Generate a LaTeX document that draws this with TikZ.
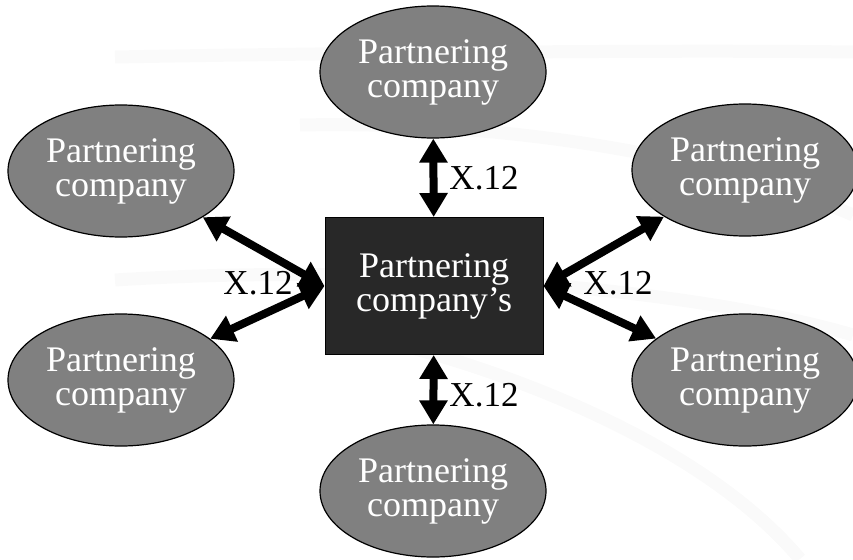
\documentclass[tikz,border=0pt]{standalone}
\usepackage{fontspec}
\setmainfont{Liberation Serif}
\usetikzlibrary{arrows.meta,shapes.geometric}
\definecolor{ellfill}{HTML}{808080}
\definecolor{boxfill}{HTML}{282828}
\definecolor{bgarc}{HTML}{FAFAFA}
\begin{document}
\begin{tikzpicture}[x=1pt,y=-1pt,
  partner/.style={ellipse, draw=black, line width=1.2pt, fill=ellfill, text=white,
    minimum width=226pt, minimum height=132pt, align=center, inner sep=0pt,
    font=\fontsize{36}{34}\selectfont},
  hub/.style={rectangle, draw=black, line width=1pt, fill=boxfill, text=white,
    minimum width=218pt, minimum height=137pt, align=center, inner sep=0pt,
    font=\fontsize{36}{34}\selectfont},
  link/.style={line width=8pt, {Triangle[length=24pt,width=27pt]}-{Triangle[length=24pt,width=27pt]}},
  lbl/.style={inner sep=0pt, font=\fontsize{35}{34}\selectfont},
  bgband/.style={draw=bgarc, line width=13pt}]
\useasboundingbox (0,0) rectangle (853,559);
% faint background bands
\path[bgband] (115,57) .. controls (400,52) and (700,50) .. (853,52);
\path[bgband] (300,125) .. controls (550,120) and (750,170) .. (853,215);
\path[bgband] (115,280) .. controls (400,262) and (700,290) .. (853,335);
\path[bgband] (400,345) .. controls (500,370) and (700,440) .. (800,559);
% nodes
\node[hub] (ctr) at (434,286) {Partnering\\company’s};
\node[partner] (top) at (433,72) {Partnering\\company};
\node[partner] (bot) at (433,491) {Partnering\\company};
\node[partner] (lt) at (121,171) {Partnering\\company};
\node[partner] (lb) at (121,380) {Partnering\\company};
\node[partner] (rt) at (745,170) {Partnering\\company};
\node[partner] (rb) at (745,380) {Partnering\\company};
% connectors
\draw[link] (top) -- (ctr);
\draw[link] (ctr) -- (bot);
\draw[link] (ctr.west) -- (lt);
\draw[link] (ctr.west) -- (lb);
\draw[link] (ctr.east) -- (rt);
\draw[link] (ctr.east) -- (rb);
% labels
\node[lbl] (l1) at (484,178) {X.12};
\node[lbl] (l2) at (484,395) {X.12};
\node[lbl] (l3) at (258,283) {X.12};
\node[lbl] (l4) at (618,283) {X.12};
\end{tikzpicture}
\end{document}
